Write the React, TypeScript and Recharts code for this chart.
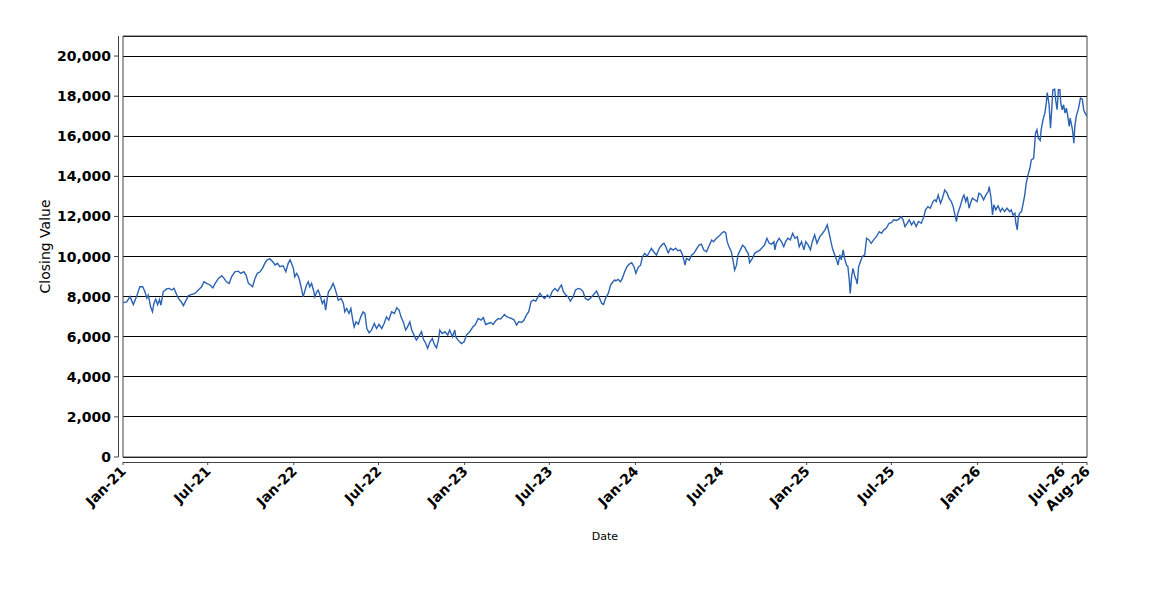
import React from 'react';
import { LineChart, Line, XAxis, YAxis, CartesianGrid, ReferenceArea, Label } from 'recharts';

// Days since 1 Jan 2021 and closing values
const dayOffsets = [
  0, 8, 15, 22, 29, 36, 42, 47, 51, 54, 59, 63, 66, 70, 74, 78, 81, 86, 93, 99, 104, 109, 115, 120, 125, 129, 133, 140, 147, 154, 161, 168, 173, 179, 186, 192, 197, 204, 211, 216, 221, 227, 232, 239, 246, 252, 258, 263, 268, 273, 277, 282, 287, 293, 298, 303, 308, 314, 320, 325, 330, 335, 342, 348, 353, 357,
  360, 364, 367, 371, 375, 378, 382, 385, 389, 392, 396, 399, 403, 407, 410, 414, 417, 421, 426, 430, 433, 436, 439, 444, 449, 453, 456, 460, 466, 471, 474, 478, 483, 487, 491, 494, 498, 503, 508, 513, 517, 521, 526, 531, 537, 542, 547, 553, 558, 563, 568, 574, 580, 585, 590, 594, 599, 604, 608, 613, 617, 622, 627, 632, 638, 642, 647, 651, 656, 661, 666, 670, 674, 677, 682, 688, 694, 698, 704, 709,
  711, 716, 723, 729, 734, 741, 748, 753, 759, 765, 770, 775, 780, 786, 791, 796, 802, 807, 815, 820, 825, 830, 836, 841, 846, 852, 857, 862, 867, 872, 877, 882, 886, 891, 896, 901, 907, 912, 917, 923, 929, 934, 937, 941, 946, 951, 956, 962, 967, 973, 978, 983, 988, 994, 1000, 1005, 1012, 1017, 1023, 1027, 1031, 1037, 1042, 1047, 1051,
  1053, 1058, 1063, 1067, 1072, 1077, 1082, 1087, 1092, 1096, 1101, 1106, 1110, 1115, 1120, 1124, 1129, 1134, 1140, 1146, 1151, 1156, 1160, 1165, 1170, 1176, 1181, 1186, 1191, 1196, 1201, 1204, 1210, 1215, 1220, 1225, 1231, 1236, 1241, 1247, 1253, 1258, 1262, 1268, 1274, 1279, 1284, 1288, 1291, 1295, 1300, 1304, 1307, 1311, 1314, 1319, 1324, 1329, 1332, 1336, 1339, 1345, 1350, 1355, 1361, 1366, 1371, 1376, 1381, 1386, 1391,
  1393, 1396, 1402, 1407, 1412, 1416, 1421, 1426, 1431, 1436, 1441, 1445, 1450, 1455, 1459, 1464, 1469, 1473, 1478, 1483, 1489, 1495, 1500, 1505, 1509, 1512, 1516, 1521, 1525, 1528, 1532, 1535, 1539, 1542, 1546, 1549, 1552, 1554, 1557, 1560, 1564, 1567, 1569, 1572, 1576, 1580, 1585, 1589, 1594, 1599, 1604, 1610, 1616, 1621, 1626, 1631, 1637, 1642, 1647, 1653, 1658, 1663, 1667, 1671, 1676, 1680, 1685, 1690, 1695, 1700, 1706, 1711, 1715, 1720, 1725, 1731, 1735,
  1738, 1742, 1747, 1751, 1756, 1761, 1765, 1770, 1774, 1777, 1781, 1784, 1789, 1794, 1797, 1801, 1804, 1808, 1811, 1815, 1820, 1825, 1829, 1834, 1839, 1844, 1849, 1851, 1854, 1856, 1858, 1861, 1865, 1870, 1875, 1879, 1884, 1889, 1895, 1898, 1902, 1906, 1908, 1911, 1913, 1916, 1920, 1923, 1927, 1930, 1934, 1938, 1941, 1946, 1950, 1953, 1956, 1960, 1962, 1966, 1970, 1973, 1975, 1979, 1982, 1985, 1987, 1991, 1993, 1996, 1999, 2002, 2004, 2007, 2010, 2013, 2016, 2019, 2022, 2024, 2029, 2032, 2034, 2037, 2042, 2046, 2050, 2053, 2056, 2060,
];

const closingValues = [
  7700, 7740, 8000, 7600, 8000, 8490, 8490, 8240, 7920, 8080, 7490, 7240, 7660, 7870, 7600, 7860, 7570, 8240, 8380, 8410, 8330, 8410, 8080, 7860, 7720, 7550, 7740, 8050, 8110, 8160, 8330, 8490, 8740, 8660, 8580, 8440, 8660, 8910, 9040, 8910, 8740, 8660, 8990, 9240, 9270, 9160, 9240, 9070, 8660, 8580, 8490, 8910, 9160, 9240, 9410, 9660, 9830, 9880, 9740, 9580, 9660, 9490, 9540, 9240, 9660, 9830,
  9660, 9410, 8990, 9160, 8990, 8740, 8320, 7990, 8320, 8570, 8740, 8490, 8660, 8320, 7990, 8240, 8320, 8070, 7660, 7820, 7330, 7820, 8240, 8410, 8660, 8410, 8160, 7820, 7910, 7660, 7240, 7410, 7160, 7410, 6830, 6490, 6740, 6620, 6990, 7240, 7160, 6410, 6200, 6330, 6660, 6410, 6620, 6410, 6660, 6990, 6830, 7240, 7160, 7450, 7330, 6990, 6740, 6330, 6490, 6740, 6330, 6080, 5830, 6000, 6250, 5870, 5660, 5420, 5750, 5910, 5580, 5450, 5830, 6330, 6160, 6250, 6080, 6330, 6000, 6330,
  6000, 5830, 5660, 5750, 6080, 6250, 6500, 6610, 6910, 6830, 6950, 6610, 6660, 6710, 6610, 6780, 6910, 6880, 7110, 7000, 6950, 6910, 6830, 6580, 6750, 6710, 6830, 7080, 7250, 7750, 7830, 7780, 7950, 8160, 8000, 7910, 8080, 7950, 8250, 8410, 8280, 8490, 8580, 8250, 8080, 8000, 7780, 8000, 8330, 8410, 8380, 8250, 7910, 7830, 7950, 8080, 8280, 8000, 7660, 7610, 7910, 8160, 8580, 8740, 8830,
  8790, 8860, 8740, 8910, 9240, 9490, 9620, 9690, 9490, 9160, 9460, 9570, 9990, 10160, 10020, 10190, 10410, 10240, 10070, 10410, 10570, 10660, 10490, 10190, 10410, 10320, 10410, 10290, 10320, 10070, 9570, 9910, 9820, 10070, 10160, 10360, 10570, 10620, 10320, 10240, 10570, 10820, 10740, 10910, 11020, 11160, 11240, 11190, 10740, 10490, 10240, 9740, 9320, 9570, 10070, 10320, 10570, 10450, 10290, 10160, 9690, 9910, 10160, 10240, 10320, 10450, 10570, 10910, 10660, 10620, 10740,
  10330, 10660, 10910, 10740, 10490, 10740, 10910, 10830, 11160, 10910, 10990, 10490, 10740, 10330, 10740, 10580, 10330, 10740, 11080, 10660, 10990, 11160, 11330, 11580, 11160, 10830, 10410, 10080, 9830, 9580, 10080, 9830, 10330, 9910, 9580, 9500, 8830, 8160, 9000, 9410, 9000, 8830, 8630, 9500, 9750, 10000, 10080, 10910, 10830, 10660, 10830, 10990, 11240, 11160, 11330, 11410, 11660, 11690, 11830, 11800, 11860, 11990, 11830, 11490, 11660, 11830, 11580, 11750, 11490, 11750, 11660, 11960, 12330, 12490, 12410, 12740, 12830,
  12740, 13070, 12660, 12910, 13320, 13160, 12910, 12740, 12490, 12160, 11740, 12160, 12490, 12910, 13070, 12740, 12990, 12410, 12660, 12910, 12830, 12740, 13160, 13070, 12830, 13070, 13240, 13490, 13070, 12660, 12070, 12580, 12330, 12530, 12240, 12410, 12240, 12410, 12240, 12330, 12070, 12160, 11660, 11330, 11910, 12160, 12240, 12580, 13070, 13650, 14070, 14400, 14820, 14900, 16150, 16320, 15900, 15790, 16320, 16820, 17150, 17650, 18180, 17570, 16400, 17480, 18320, 18350, 17820, 17320, 18320, 18320, 17650, 17320, 17570, 17150, 17400, 16990, 16490, 16900, 16320, 15650, 16490, 16990, 17400, 17900, 17850, 17320, 17150, 16990,
];

const xTickDays = [0, 181, 365, 546, 730, 911, 1095, 1277, 1461, 1642, 1826, 2007, 2060];
const xTickLabels = ['Jan-21', 'Jul-21', 'Jan-22', 'Jul-22', 'Jan-23', 'Jul-23', 'Jan-24', 'Jul-24', 'Jan-25', 'Jul-25', 'Jan-26', 'Jul-26', 'Aug-26'];
const yTicks = [0, 2000, 4000, 6000, 8000, 10000, 12000, 14000, 16000, 18000, 20000];
const Y_MAX = 21000;
const LAST_DAY = 2060;

const chartData = dayOffsets.map((d, i) => ({ day: d, close: closingValues[i] }));

const FONT = '"DejaVu Sans", Verdana, sans-serif';
const AXIS_COLOR = '#444444';
const LINE_COLOR = '#2B63B2';

function XTick(props: any) {
  const { x, y, payload } = props;
  const i = xTickDays.indexOf(payload.value);
  const label = i >= 0 ? xTickLabels[i] : '';
  return (
    <g>
      <line x1={x} x2={x} y1={y + 5} y2={y + 8} stroke={AXIS_COLOR} />
      <text
        x={0}
        y={0}
        transform={`translate(${x + 4},${y + 15}) rotate(-45)`}
        textAnchor="end"
        fontFamily={FONT}
        fontSize={14}
        fontWeight="bold"
        fill="#000"
      >
        {label}
      </text>
    </g>
  );
}

function YTick(props: any) {
  const { x, y, payload } = props;
  return (
    <g>
      <line x1={x - 5} x2={x - 9} y1={y} y2={y} stroke={AXIS_COLOR} />
      <text
        x={x - 12}
        y={y}
        dy="0.36em"
        textAnchor="end"
        fontFamily={FONT}
        fontSize={14}
        fontWeight="bold"
        fill="#000"
      >
        {Number(payload.value).toLocaleString('en-US')}
      </text>
    </g>
  );
}

function XTitle(props: any) {
  const vb = props.viewBox || { x: 115, y: 449, width: 964, height: 60 };
  const cx = vb.x + vb.width / 2;
  return (
    <text x={cx} y={vb.y + 83} textAnchor="middle" fontFamily={FONT} fontSize={11} fill="#000">
      Date
    </text>
  );
}

function YTitle(props: any) {
  const vb = props.viewBox || { x: 35, y: 28, width: 80, height: 421 };
  const cx = vb.x + vb.width - 78;
  const cy = vb.y + vb.height / 2;
  return (
    <text
      x={cx}
      y={cy}
      dy="0.35em"
      transform={`rotate(-90 ${cx} ${cy})`}
      textAnchor="middle"
      fontFamily={FONT}
      fontSize={14}
      fill="#000"
    >
      Closing Value
    </text>
  );
}

export default function App() {
  return (
    <div style={{ width: 1142, height: 584, fontFamily: FONT }}>
      <style>{`
        .recharts-cartesian-grid line,
        .recharts-cartesian-axis-line,
        .recharts-reference-area rect { shape-rendering: crispEdges; }
      `}</style>
      <LineChart width={1142} height={584} data={chartData} margin={{ top: 28, right: 63, bottom: 75, left: 35 }}>
        <CartesianGrid vertical={false} stroke="#000" strokeWidth={1} />
        <XAxis
          dataKey="day"
          type="number"
          domain={[0, LAST_DAY]}
          ticks={xTickDays}
          interval={0}
          allowDataOverflow
          height={60}
          tickSize={0}
          tickMargin={0}
          tickLine={false}
          tick={<XTick />}
          axisLine={{ stroke: AXIS_COLOR, strokeWidth: 1, transform: 'translate(0,5)' } as any}
        >
          <Label content={<XTitle />} />
        </XAxis>
        <YAxis
          type="number"
          domain={[0, Y_MAX]}
          ticks={yTicks}
          interval={0}
          allowDataOverflow
          width={80}
          tickSize={0}
          tickMargin={0}
          tickLine={false}
          tick={<YTick />}
          axisLine={{ stroke: AXIS_COLOR, strokeWidth: 1, transform: 'translate(-5,0)' } as any}
        >
          <Label content={<YTitle />} />
        </YAxis>
        <Line
          type="linear"
          dataKey="close"
          stroke={LINE_COLOR}
          strokeWidth={1.4}
          dot={false}
          activeDot={false}
          isAnimationActive={false}
        />
        <ReferenceArea
          x1={0}
          x2={LAST_DAY}
          y1={0}
          y2={Y_MAX}
          fill="none"
          fillOpacity={0}
          stroke={AXIS_COLOR}
          strokeWidth={1}
          ifOverflow="visible"
        />
      </LineChart>
    </div>
  );
}
